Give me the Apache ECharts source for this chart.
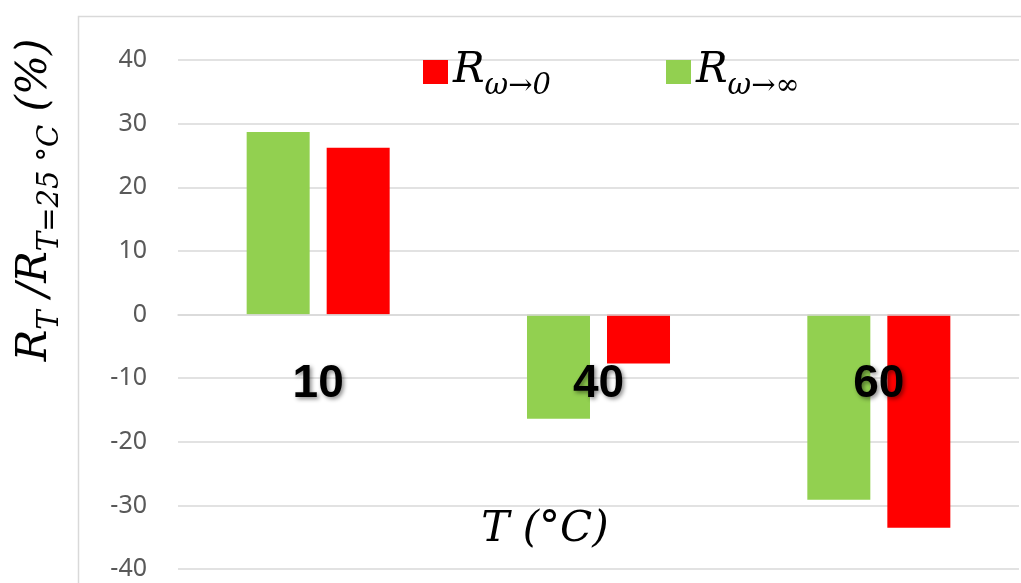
<!DOCTYPE html>
<html>
<head>
<meta charset="utf-8">
<script src="https://cdn.jsdelivr.net/npm/echarts@6/dist/echarts.min.js"></script>
<style>html,body{margin:0;padding:0;background:#fff}#c{width:1021px;height:583px}</style>
</head>
<body>
<div id="c"></div>
<script>
var categories = ['10', '40', '60'];
var seriesNames = ['Rω→∞', 'Rω→0'];
var rInf = [28.7, -16.4, -29.1];
var rZero = [26.2, -7.7, -33.5];
var yMin = -40, yMax = 40, yStep = 10;

var serif = '"DejaVu Serif", serif';
var richLegend = {
  m: { fontFamily: serif, fontStyle: 'italic', fontSize: 42, color: '#000', lineHeight: 44, verticalAlign: 'top' },
  s: { fontFamily: serif, fontStyle: 'italic', fontSize: 29, color: '#000', lineHeight: 29, padding: [22, 0, 0, 0], verticalAlign: 'top' }
};
function legendFmt(name) { return '{m|R}{s|' + name.slice(1) + '}'; }

var chart = echarts.init(document.getElementById('c'));
chart.setOption({
  animation: false,
  backgroundColor: '#fff',
  grid: { left: 178, right: 2, top: 60, bottom: 14, containLabel: false, outerBoundsMode: 'none' },
  legend: [
    { data: [seriesNames[1]], left: 418, top: 45, itemWidth: 25, itemHeight: 24, icon: 'rect', itemGap: 0,
      formatter: legendFmt, textStyle: { rich: richLegend } },
    { data: [seriesNames[0]], left: 661, top: 45, itemWidth: 25, itemHeight: 24, icon: 'rect', itemGap: 0,
      formatter: legendFmt, textStyle: { rich: richLegend } }
  ],
  xAxis: {
    type: 'category', data: categories,
    axisLine: { show: true, onZero: true, lineStyle: { color: '#d9d9d9', width: 1.5 } }, axisTick: { show: false },
    axisLabel: {
      margin: -208, fontFamily: '"Liberation Sans", Arial, sans-serif', fontWeight: 'bold', fontSize: 46, color: '#000',
      textShadowColor: 'rgba(0,0,0,0.45)', textShadowBlur: 4, textShadowOffsetX: 2, textShadowOffsetY: 2
    },
    z: 10
  },
  yAxis: {
    type: 'value', min: yMin, max: yMax, interval: yStep,
    axisLine: { show: false }, axisTick: { show: false },
    splitLine: { lineStyle: { color: '#d9d9d9', width: 1.5 } },
    axisLabel: { margin: 31, fontFamily: '"Noto Sans", sans-serif', fontSize: 25, color: '#595959' }
  },
  series: [
    { name: seriesNames[0], type: 'bar', data: rInf, barWidth: 63, barGap: '27%',
      itemStyle: { color: '#92D050' } },
    { name: seriesNames[1], type: 'bar', data: rZero, barWidth: 63, barGap: '27%',
      itemStyle: { color: '#FF0000' } }
  ],
  graphic: [
    { type: 'rect', left: 76, top: 14, silent: true, z: -1,
      shape: { width: 1000, height: 600 }, style: { fill: 'none', stroke: '#d9d9d9', lineWidth: 1.5 } },
    { type: 'text', x: 545, y: 530, silent: true,
      style: { text: 'T (°C)', font: 'italic 42px ' + serif, fill: '#000', align: 'center', verticalAlign: 'middle' } },
    { type: 'text', x: 36, y: 200, rotation: Math.PI / 2, silent: true,
      style: {
        text: '{m|R}{s|T}{m| /R}{s|T=25 °C}{m| (%)}', align: 'center', verticalAlign: 'middle',
        rich: {
          m: { fontFamily: serif, fontStyle: 'italic', fontSize: 42, fill: '#000', lineHeight: 44, verticalAlign: 'top' },
          s: { fontFamily: serif, fontStyle: 'italic', fontSize: 29, fill: '#000', lineHeight: 29, padding: [22, 0, 0, 0], verticalAlign: 'top' }
        }
      } }
  ]
});
</script>
</body>
</html>
